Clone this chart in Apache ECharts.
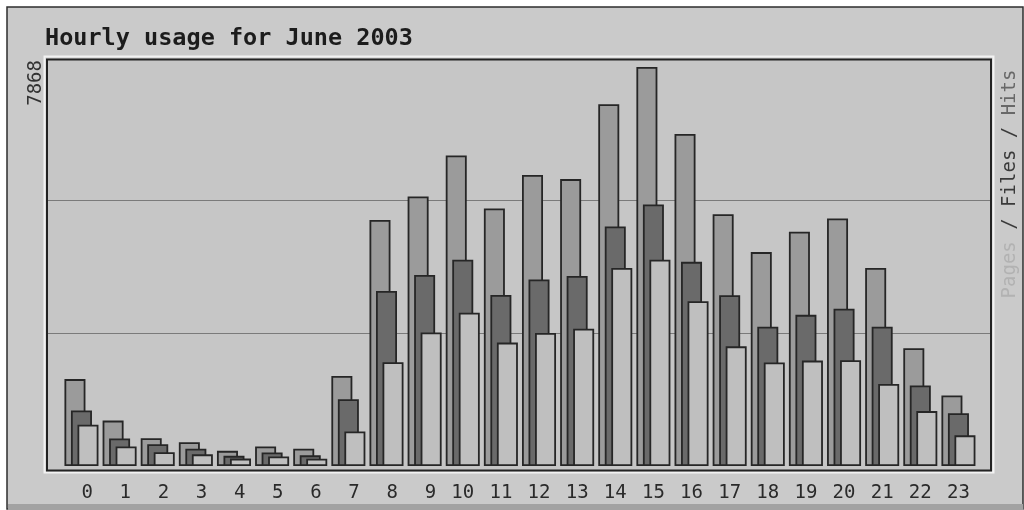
<!DOCTYPE html>
<html>
<head>
<meta charset="utf-8">
<title>Hourly usage for June 2003</title>
<script src="https://cdn.jsdelivr.net/npm/echarts@6/dist/echarts.min.js"></script>
<style>
  html, body { margin: 0; padding: 0; background: #ffffff; }
  #chart { width: 1024px; height: 510px; }
</style>
</head>
<body>
<div id="chart"></div>
<script>
// Hour of day (category axis)
const hours = ['0', '1', '2', '3', '4', '5', '6', '7', '8', '9', '10', '11',
               '12', '13', '14', '15', '16', '17', '18', '19', '20', '21', '22', '23'];

// Requests per hour for the month
const hits  = [1714, 895, 548, 467, 299, 384, 342, 1777, 4850, 5315, 6124, 5079,
               5738, 5657, 7132, 7868, 6546, 4966, 4218, 4618, 4881, 3905, 2322, 1390];
const files = [1095, 544, 430, 340, 200, 265, 210, 1316, 3450, 3765, 4066, 3371,
               3680, 3749, 4723, 5156, 4026, 3369, 2747, 2981, 3100, 2747, 1589, 1039];
const pages = [812, 386, 271, 230, 146, 186, 144, 679, 2045, 2633, 3023, 2433,
               2625, 2708, 3905, 4068, 3250, 2359, 2041, 2078, 2084, 1619, 1083, 604];

const peak = Math.max(...hits);
const MONO = '"DejaVu Sans Mono", "Liberation Mono", monospace';

const chart = echarts.init(document.getElementById('chart'), null, { renderer: 'canvas' });

function barSeries(name, values, fill) {
  return {
    name: name,
    type: 'bar',
    xAxisIndex: 1,
    yAxisIndex: 1,
    data: values,
    barWidth: 21,
    barGap: '-69%',
    itemStyle: { color: fill, borderColor: '#262626', borderWidth: 1.8 },
    silent: true
  };
}

chart.setOption({
  animation: false,
  backgroundColor: '#ffffff',
  title: {
    text: 'Hourly usage for June 2003',
    left: 45,
    top: 27,
    padding: 0,
    textStyle: { fontFamily: MONO, fontWeight: 'bold', fontSize: 23.5, color: '#1c1c1c' }
  },
  grid: [
    // guide grid spanning the whole frame (grid lines at 1/3 and 2/3 of the peak)
    { left: 47, right: 33, top: 67, bottom: 44 },
    // bar grid
    { left: 62.4, right: 46.5, top: 67, bottom: 44 }
  ],
  xAxis: [
    { gridIndex: 0, type: 'value', min: 0, max: 1, show: false },
    {
      gridIndex: 1,
      type: 'category',
      data: hours,
      axisLine: { show: false },
      axisTick: { show: false },
      axisLabel: {
        interval: 0,
        margin: 18,
        fontFamily: MONO,
        fontSize: 19,
        color: '#2a2a2a',
        formatter: function (v) { return v.length < 2 ? ' ' + v : v; }
      }
    }
  ],
  yAxis: [
    {
      gridIndex: 0,
      type: 'value',
      min: 0,
      max: 3,
      interval: 1,
      axisLine: { show: false },
      axisTick: { show: false },
      axisLabel: { show: false },
      splitLine: {
        show: true,
        showMinLine: false,
        showMaxLine: false,
        lineStyle: { color: '#7a7a7a', width: 1 }
      }
    },
    { gridIndex: 1, type: 'value', min: 0, max: peak, show: false }
  ],
  graphic: [
    // outer panel
    { type: 'rect', z: -10, shape: { x: 7, y: 7, width: 1016, height: 502 },
      style: { fill: '#cacaca', stroke: '#2e2e2e', lineWidth: 1.5 } },
    { type: 'rect', z: -9, shape: { x: 8, y: 504, width: 1015, height: 6 },
      style: { fill: '#a2a2a2' } },
    // plot area
    { type: 'rect', z: -8, shape: { x: 47, y: 60, width: 944, height: 410 },
      style: { fill: '#c6c6c6' } },
    { type: 'rect', z: -7, shape: { x: 44.5, y: 56.5, width: 949, height: 416 },
      style: { fill: 'none', stroke: '#f2f2f2', lineWidth: 2 } },
    { type: 'rect', z: 5, shape: { x: 47, y: 59.5, width: 944, height: 411 },
      style: { fill: 'none', stroke: '#222222', lineWidth: 2 } },
    // peak value, read bottom to top
    { type: 'text', z: 10, x: 36, y: 60, rotation: Math.PI / 2,
      style: { text: String(peak), fontFamily: MONO, fontSize: 19, fill: '#333333',
               align: 'right', verticalAlign: 'middle' } },
    // series key
    { type: 'text', z: 10, x: 1010, y: 184, rotation: Math.PI / 2,
      style: {
        text: '{p|Pages} {s|/} {f|Files} {s|/} {h|Hits}',
        fontFamily: MONO, fontSize: 19, fill: '#3a3a3a',
        align: 'center', verticalAlign: 'middle',
        rich: {
          p: { fontFamily: MONO, fontSize: 19, fill: '#b2b2b2' },
          s: { fontFamily: MONO, fontSize: 19, fill: '#3a3a3a' },
          f: { fontFamily: MONO, fontSize: 19, fill: '#3a3a3a' },
          h: { fontFamily: MONO, fontSize: 19, fill: '#686868' }
        }
      } }
  ],
  series: [
    barSeries('Hits', hits, '#9b9b9b'),
    barSeries('Files', files, '#6a6a6a'),
    barSeries('Pages', pages, '#bfbfbf')
  ]
});
</script>
</body>
</html>
